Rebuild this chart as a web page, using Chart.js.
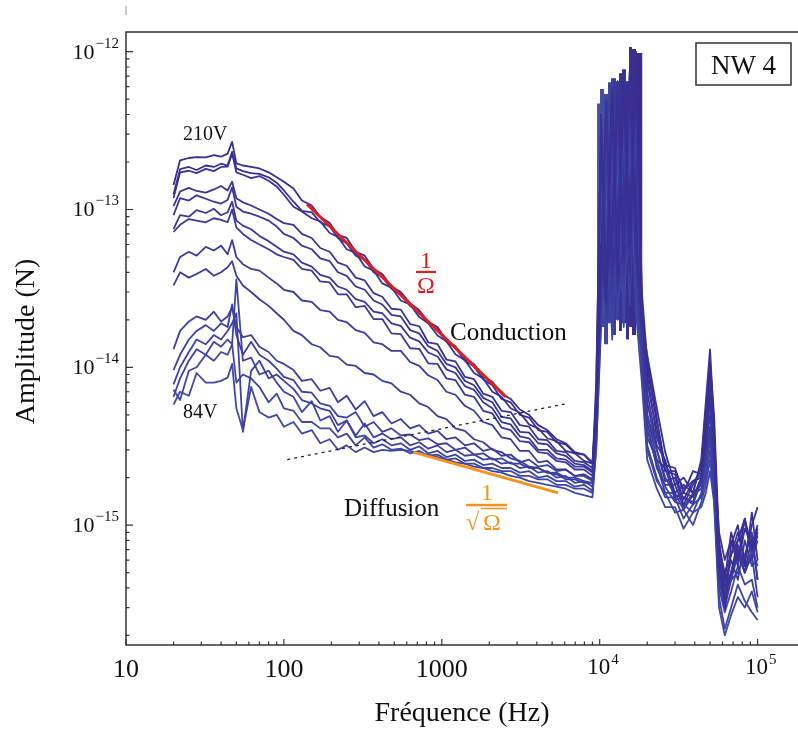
<!DOCTYPE html>
<html>
<head>
<meta charset="utf-8">
<script src="https://cdn.jsdelivr.net/npm/chart.js@4.4.0/dist/chart.umd.min.js"></script>
<style>
  html, body { margin: 0; padding: 0; background: #fff; }
  canvas { display: block; }
</style>
</head>
<body>
<canvas id="chart" width="798" height="735"></canvas>
<script>
// amplitudes are written in femtonewtons, converted to newtons for the axis
const FN = 1e-15;

const freqHz = [20, 22, 25, 28, 32, 36, 40, 44, 47, 50, 55, 62, 70, 80, 90, 100,
  115, 130, 150, 170, 195, 220, 250, 285, 325, 370, 420, 480, 550, 630, 720, 820, 940, 1070, 1220, 1400,
  1600, 1830, 2090, 2390, 2730, 3120, 3570, 4080, 4660, 5330, 6090, 6960, 7950, 9000,
  9500, 10200, 11000, 12000, 13000, 14200, 15500, 17000, 18500,
  20000, 23000, 26000, 30000, 34000, 39000, 44000, 47000, 50000, 53000, 57000, 62000, 68000, 75000, 83000, 92000, 100000];

// 210 V (top curve)
const curve01 = [143, 205, 212, 215, 214, 221, 216, 226, 268, 196, 190, 186, 182, 172, 160, 150,
  136, 114, 106, 90, 82, 69, 66, 54, 51, 42, 39, 32.5, 30, 25.5, 23, 19.4, 18, 14.8, 13.6, 11.3,
  10.5, 8.7, 8.1, 6.8, 6.3, 5.4, 5.0, 4.3, 4.0, 3.5, 3.3, 2.9, 2.8, 2.5,
  5, 60, 25, 560, 40, 690, 60, 1000, 22,
  10, 4.5, 2.4, 2.3, 1.6, 2.2, 2.1, 4.5, 11, 5.0, 0.8, 0.45, 0.9, 0.6, 1.1, 0.7, 0.95];
const curve02 = [125, 180, 186, 178, 190, 186, 195, 190, 232, 182, 175, 170, 168, 160, 148, 132,
  112, 98, 96, 83, 78, 66, 61, 51, 48, 40, 37.5, 31.5, 29, 24.5, 22.5, 19, 17.4, 14.5, 13.3, 11,
  10.1, 8.4, 7.7, 6.3, 6.0, 5.0, 4.8, 4.0, 3.9, 3.35, 3.25, 2.85, 2.8, 2.45,
  4, 400, 30, 80, 560, 50, 750, 70, 20,
  12, 5.5, 2.9, 1.8, 2.0, 1.6, 2.6, 6, 13, 4.2, 0.6, 0.3, 0.75, 1.0, 0.55, 1.2, 0.6];
const curve03 = [118, 172, 176, 170, 181, 175, 186, 187, 226, 172, 166, 158, 163, 152, 140, 124,
  104, 97, 88, 84, 71, 67, 56, 53, 43.5, 41, 34, 32, 26.5, 25, 20.8, 19, 15.9, 14.6, 12.1, 11.1,
  9.2, 8.5, 7.0, 6.5, 5.5, 5.15, 4.35, 4.1, 3.55, 3.4, 2.95, 2.85, 2.55, 2.45,
  6, 30, 450, 40, 70, 650, 40, 900, 25,
  8, 4.0, 2.2, 2.1, 1.45, 1.9, 2.0, 3.5, 8, 3.8, 0.55, 0.4, 0.5, 0.8, 1.05, 0.7, 0.85];
const curve04 = [105, 130, 137, 131, 128, 134, 141, 132, 150, 118, 111, 106, 100, 94, 87, 82,
  80, 70, 66, 57, 54, 46, 44, 37, 35.5, 29.5, 28, 23.5, 23.2, 18.8, 18.2, 14.4, 14, 11.2, 10.9, 8.7,
  8.4, 6.8, 6.5, 5.3, 5.2, 4.3, 4.2, 3.5, 3.45, 2.95, 2.9, 2.55, 2.5, 2.3,
  8, 350, 25, 600, 35, 60, 740, 50, 18,
  9, 3.6, 2.5, 1.6, 1.8, 1.6, 2.5, 5, 9, 3.2, 0.7, 0.5, 0.65, 0.9, 0.6, 1.0, 1.3];
const curve05 = [92, 118, 114, 123, 117, 112, 109, 115, 138, 104, 97, 94, 90, 85, 78, 70,
  66, 59, 56, 49, 47, 40, 38, 32.5, 31, 26.5, 25, 21.5, 21, 17.2, 16.4, 13.6, 12.7, 10.5, 10, 8.2,
  7.7, 6.4, 6.0, 4.85, 4.75, 3.9, 3.85, 3.3, 3.25, 2.85, 2.75, 2.45, 2.4, 2.2,
  5, 45, 500, 35, 650, 45, 80, 800, 30,
  11, 4.8, 2.2, 2.2, 1.7, 1.9, 2.1, 4, 7, 2.8, 0.9, 0.6, 0.8, 0.55, 0.95, 0.75, 1.0];
const curve06 = [75, 92, 90, 99, 95, 101, 92, 96, 112, 85, 79, 75, 68, 63, 58, 54,
  52, 46, 43.5, 38.5, 37, 32.5, 31, 27, 26, 22.5, 22, 19, 18.3, 15.4, 14.6, 12.4, 11.7, 9.7, 9.2, 7.6,
  7.2, 6.0, 5.5, 4.5, 4.35, 3.65, 3.55, 3.0, 3.0, 2.65, 2.6, 2.35, 2.35, 2.15,
  7, 300, 40, 550, 30, 700, 55, 650, 22,
  7, 3.2, 2.6, 1.5, 1.6, 1.5, 2.0, 3.2, 6, 3.0, 0.5, 0.35, 0.5, 0.7, 0.5, 0.85, 0.45];
const curve07 = [72, 80, 87, 85, 83, 88, 86, 83, 100, 77, 70, 64, 60, 56, 52, 50,
  48, 42, 41, 35, 34.5, 29, 29, 24, 24.5, 20.2, 20.2, 16.4, 16.2, 13.2, 13.1, 10.6, 10.5, 8.5, 8.3, 6.7,
  6.5, 5.3, 5.1, 4.15, 4.0, 3.4, 3.35, 2.9, 2.85, 2.55, 2.5, 2.25, 2.25, 2.05,
  6, 50, 480, 30, 80, 600, 35, 950, 18,
  6, 3.0, 1.9, 2.0, 1.35, 1.8, 2.3, 5.5, 10, 3.5, 0.65, 0.42, 0.65, 0.8, 1.1, 0.6, 0.9];
const curve08 = [40, 50, 54, 51, 58, 55, 59, 52, 64, 50, 45, 42, 41, 37, 34, 31,
  30, 26.5, 26, 23, 22.5, 20, 19.3, 17.2, 16.5, 14.4, 14, 12.7, 12.7, 10.8, 10.2, 8.9, 8.3, 7.0, 6.7, 5.7,
  5.3, 4.5, 4.3, 3.6, 3.5, 2.95, 2.95, 2.5, 2.55, 2.25, 2.25, 2.05, 2.05, 1.9,
  4, 250, 20, 45, 500, 40, 600, 45, 16,
  5, 2.6, 2.3, 1.45, 1.5, 1.35, 1.9, 3, 5, 2.6, 0.45, 0.3, 0.45, 0.7, 0.5, 0.65, 0.35];
const curve09 = [33, 40, 37, 39, 42, 38, 40, 43, 47, 38, 33, 30, 27, 24.5, 22, 20,
  17, 16, 14, 13.4, 11.8, 11.6, 10.4, 10.2, 9.2, 9.0, 8.2, 7.9, 7.0, 6.7, 5.9, 5.6, 4.9, 4.7, 4.1, 3.95,
  3.5, 3.35, 3.0, 2.9, 2.65, 2.55, 2.35, 2.3, 2.15, 2.1, 1.95, 1.95, 1.85, 1.85,
  5, 35, 300, 25, 450, 35, 550, 40, 15,
  4.5, 2.3, 1.8, 1.8, 1.3, 1.6, 1.8, 2.7, 4.2, 2.4, 0.7, 0.4, 0.6, 0.45, 0.8, 0.55, 0.6];
const curve10 = [13, 17, 19.5, 21, 20, 22.5, 19.5, 21, 24, 18, 15.5, 16, 13.5, 12.5, 11, 10.5,
  9.6, 8.2, 8.4, 7.1, 7.4, 6.0, 6.6, 5.4, 6.1, 4.9, 5.2, 4.4, 4.7, 4.1, 4.3, 3.8, 3.95, 3.5, 3.6, 3.2,
  3.3, 2.95, 3.05, 2.75, 2.8, 2.5, 2.6, 2.35, 2.4, 2.2, 2.25, 2.05, 2.1, 1.95,
  3.5, 45, 25, 380, 30, 500, 40, 700, 14,
  5, 3.0, 2.0, 1.55, 1.5, 1.4, 2.0, 3.5, 7, 2.2, 0.5, 0.32, 0.5, 0.75, 0.55, 0.6, 0.8];
const curve11 = [9.6, 12, 15, 17, 18.5, 17, 19, 18, 25, 16, 12, 14.5, 12, 11, 9.8, 8.7,
  8.3, 7.0, 6.9, 5.9, 5.7, 4.9, 4.8, 5.2, 4.2, 4.5, 3.9, 4.1, 3.7, 3.75, 3.45, 3.55, 3.25, 3.3, 3.0, 3.1,
  2.8, 2.85, 2.6, 2.65, 2.45, 2.45, 2.3, 2.3, 2.15, 2.15, 2.0, 2.0, 1.9, 1.85,
  4, 30, 280, 22, 40, 420, 30, 500, 12,
  4, 2.4, 1.6, 1.6, 1.25, 1.55, 1.7, 2.5, 4, 2.0, 0.55, 0.38, 0.45, 0.5, 0.65, 0.9, 0.45];
const curve12 = [7.8, 10, 12.5, 15, 14, 16, 15, 17, 19, 22, 3.9, 9.5, 11, 8.5, 9, 8.2,
  7.3, 6.2, 5.9, 5.5, 5.3, 4.3, 4.6, 3.7, 4.4, 3.6, 3.8, 3.5, 3.6, 3.2, 3.35, 3.05, 3.2, 2.9, 3.0, 2.75,
  2.8, 2.6, 2.65, 2.45, 2.5, 2.3, 2.35, 2.15, 2.2, 2.0, 2.05, 1.85, 1.9, 1.75,
  6, 25, 35, 320, 25, 45, 480, 35, 11,
  3.6, 2.6, 1.75, 1.4, 1.35, 1.2, 1.6, 2.2, 3.5, 1.8, 0.4, 0.28, 0.38, 0.55, 0.42, 0.45, 0.3];
const curve13 = [6.5, 8.5, 11, 13, 12, 14.5, 13.5, 15, 14, 36, 11, 11.5, 9, 9.5, 8, 7,
  6.5, 5.2, 6.1, 4.6, 4.9, 3.9, 4.6, 3.6, 3.7, 3.3, 3.5, 3.2, 3.3, 3.0, 3.15, 2.85, 2.95, 2.7, 2.8, 2.55,
  2.6, 2.4, 2.45, 2.3, 2.3, 2.15, 2.2, 2.0, 2.05, 1.9, 1.9, 1.75, 1.8, 1.65,
  3, 20, 200, 18, 300, 28, 400, 30, 10,
  3.2, 2.0, 1.5, 1.5, 1.1, 1.35, 1.5, 2.0, 3.0, 1.6, 0.6, 0.35, 0.45, 0.65, 0.5, 0.7, 0.55];
const curve14 = [7.2, 6.2, 9.5, 10, 12, 11, 12.5, 12, 14, 8, 9, 8.5, 7.5, 6.0, 6.8, 5.5,
  5.3, 4.5, 4.5, 4.1, 4.1, 3.6, 3.8, 3.2, 3.6, 3.1, 3.25, 3.0, 3.05, 2.85, 2.95, 2.75, 2.8, 2.6, 2.65, 2.45,
  2.45, 2.3, 2.3, 2.2, 2.2, 2.05, 2.05, 1.95, 1.95, 1.8, 1.8, 1.7, 1.7, 1.6,
  4, 22, 18, 250, 20, 350, 25, 380, 9,
  3.0, 1.9, 1.6, 1.2, 1.25, 1.0, 1.4, 1.8, 2.6, 1.5, 0.35, 0.22, 0.3, 0.42, 0.33, 0.28, 0.25];
// 84 V (bottom curve)
const curve15 = [5.8, 7.0, 6.6, 9.2, 8.0, 8.0, 8.2, 8.6, 10.5, 5.5, 4.0, 7.5, 5.2, 4.8, 5.0, 4.2,
  4.5, 3.8, 4.0, 3.3, 3.5, 3.0, 3.2, 2.9, 3.1, 2.9, 3.0, 2.95, 3.0, 2.95, 2.85, 2.8, 2.7, 2.6, 2.5, 2.45,
  2.35, 2.3, 2.2, 2.15, 2.05, 2.0, 1.9, 1.85, 1.8, 1.75, 1.7, 1.6, 1.55, 1.5,
  3, 18, 150, 15, 220, 18, 280, 22, 8,
  2.6, 1.7, 1.3, 1.3, 0.95, 1.2, 1.3, 1.6, 2.2, 1.4, 0.3, 0.2, 0.27, 0.35, 0.3, 0.38, 0.28];

const curves = [curve01, curve02, curve03, curve04, curve05, curve06, curve07, curve08,
  curve09, curve10, curve11, curve12, curve13, curve14, curve15];

// dense resonance block (upper / lower envelope of the oscillating traces)
const resF = [9620, 10050, 10650, 11290, 11790, 12680, 13250, 13840, 14670, 15330, 16020, 16980, 17990, 18670];
const resTop = [400, 470, 580, 540, 640, 680, 650, 730, 775, 650, 1070, 1040, 980, 980];
const resBottom = [10, 15, 18, 14, 19, 16, 20, 17, 19, 15, 18, 16, 19, 18];

// guide lines
const conductionF = [140, 2550];
const conductionA = [108, 6.5];
const diffusionF = [660, 5450];
const diffusionA = [2.9, 1.6];
const crossoverF = [105, 6000];
const crossoverA = [2.6, 5.85];

const xTicks = [10, 100, 1000, 1e4, 1e5];
const xTickBase = ['10', '100', '1000', '10', '10'];
const xTickExp = ['', '', '', '4', '5'];
const yTicks = [1e-12, 1e-13, 1e-14, 1e-15];
const yTickExp = ['\u221212', '\u221213', '\u221214', '\u221215'];

const SERIF = '"Liberation Serif", "Times New Roman", serif';
const RED = 'rgb(222,32,30)';
const ORANGE = 'rgb(247,146,30)';

const pts = (fs, as) => fs.map((f, i) => ({ x: f, y: as[i] * FN }));

function curveColor(i) {
  const t = i / (curves.length - 1);
  const r = Math.round(56 + (64 - 56) * t);
  const g = Math.round(46 + (72 - 46) * t);
  const b = Math.round(148 + (166 - 148) * t);
  return `rgb(${r},${g},${b})`;
}

const datasets = [];
datasets.push({
  data: pts(conductionF, conductionA), borderColor: RED, borderWidth: 3, order: 0
});
datasets.push({
  data: pts(diffusionF, diffusionA), borderColor: ORANGE, borderWidth: 3, order: 0
});
datasets.push({
  data: pts(crossoverF, crossoverA), borderColor: '#222', borderWidth: 1.3, borderDash: [3, 4], order: 0
});
curves.forEach((c, i) => {
  datasets.push({ data: pts(freqHz, c), borderColor: curveColor(i), borderWidth: 1.8, order: 1 });
});
datasets.push({
  data: pts(resF, resTop), stepped: 'after', borderWidth: 0, borderColor: 'rgba(0,0,0,0)',
  fill: '+1', order: 2,
  backgroundColor(context) {
    const { chart } = context;
    const { ctx, chartArea, scales } = chart;
    if (!chartArea || !scales.x) return 'rgb(62,62,152)';
    const x0 = scales.x.getPixelForValue(resF[0]);
    const x1 = scales.x.getPixelForValue(resF[resF.length - 1]);
    const g = ctx.createLinearGradient(x0, 0, x1, 0);
    g.addColorStop(0, 'rgb(70,86,168)');
    g.addColorStop(0.5, 'rgb(56,52,146)');
    g.addColorStop(1, 'rgb(60,42,140)');
    return g;
  }
});
datasets.push({
  data: pts(resF, resBottom), stepped: 'after', borderWidth: 0, borderColor: 'rgba(0,0,0,0)',
  fill: false, order: 3
});

function drawSup(ctx, base, exp, x, y, baseSize, expSize, expRise, align) {
  ctx.font = `${baseSize}px ${SERIF}`;
  const wb = ctx.measureText(base).width;
  ctx.font = `${expSize}px ${SERIF}`;
  const we = exp ? ctx.measureText(exp).width + 1 : 0;
  let x0;
  if (align === 'right') x0 = x - wb - we;
  else x0 = x - wb / 2;
  ctx.textAlign = 'left';
  ctx.textBaseline = 'alphabetic';
  ctx.font = `${baseSize}px ${SERIF}`;
  ctx.fillText(base, x0, y);
  if (exp) {
    ctx.font = `${expSize}px ${SERIF}`;
    ctx.fillText(exp, x0 + wb + 1, y - expRise);
  }
}

const decorations = {
  id: 'decorations',
  afterDraw(chart) {
    const { ctx, chartArea: a, scales: { x, y } } = chart;
    const px = f => x.getPixelForValue(f);
    const py = v => y.getPixelForValue(v * FN);
    ctx.save();

    // frame
    ctx.strokeStyle = '#333';
    ctx.lineWidth = 1.5;
    ctx.beginPath();
    ctx.moveTo(a.right, a.top);
    ctx.lineTo(a.left, a.top);
    ctx.lineTo(a.left, a.bottom);
    ctx.lineTo(a.right, a.bottom);
    ctx.stroke();
    ctx.strokeStyle = '#999';
    ctx.lineWidth = 1;
    ctx.beginPath();
    ctx.moveTo(a.left, 6);
    ctx.lineTo(a.left, 15);
    ctx.stroke();

    // inward tick marks
    ctx.strokeStyle = '#333';
    ctx.lineWidth = 1.2;
    ctx.beginPath();
    for (let e = -16; e <= -12; e++) {
      for (let m = 1; m <= 9; m++) {
        const v = m * Math.pow(10, e);
        if (v < y.min || v > y.max) continue;
        const yy = y.getPixelForValue(v);
        ctx.moveTo(a.left, yy);
        ctx.lineTo(a.left + (m === 1 ? 7 : 3.5), yy);
      }
    }
    for (let e = 1; e <= 5; e++) {
      for (let m = 1; m <= 9; m++) {
        const v = m * Math.pow(10, e);
        if (v < x.min || v > x.max) continue;
        const xx = x.getPixelForValue(v);
        ctx.moveTo(xx, a.bottom);
        ctx.lineTo(xx, a.bottom - (m === 1 ? 6 : 3.5));
      }
    }
    ctx.stroke();

    // tick labels
    ctx.fillStyle = '#111';
    yTicks.forEach((v, i) => {
      const yy = y.getPixelForValue(v);
      drawSup(ctx, '10', yTickExp[i], a.left - 7, yy + 7, 22, 15, 11, 'right');
    });
    xTicks.forEach((v, i) => {
      const xx = x.getPixelForValue(v);
      if (xTickExp[i]) {
        drawSup(ctx, xTickBase[i], xTickExp[i], xx - 1, a.bottom + 29, 23, 15, 10, 'center');
      } else {
        ctx.font = `26px ${SERIF}`;
        ctx.textAlign = 'center';
        ctx.textBaseline = 'alphabetic';
        ctx.fillText(xTickBase[i], xx, a.bottom + 32);
      }
    });

    // axis titles
    ctx.font = `28px ${SERIF}`;
    ctx.textAlign = 'center';
    ctx.textBaseline = 'alphabetic';
    ctx.fillText('Fr\u00e9quence (Hz)', (a.left + a.right) / 2, a.bottom + 76);
    ctx.save();
    ctx.translate(34, (a.top + a.bottom) / 2 + 3);
    ctx.rotate(-Math.PI / 2);
    ctx.fillText('Amplitude (N)', 0, 0);
    ctx.restore();

    // curve labels
    ctx.textAlign = 'left';
    ctx.font = `20px ${SERIF}`;
    ctx.fillText('210V', px(23), py(276));
    ctx.fillText('84V', px(23), py(4.77));
    ctx.font = `25px ${SERIF}`;
    ctx.fillText('Conduction', px(1127), py(14.9));
    ctx.fillText('Diffusion', px(240), py(1.14));

    // 1/Omega
    let cx = px(794), by = py(40.2);
    ctx.fillStyle = RED;
    ctx.strokeStyle = RED;
    ctx.textAlign = 'center';
    ctx.font = `24px ${SERIF}`;
    ctx.fillText('1', cx, by - 4);
    ctx.fillText('\u03a9', cx, by + 21);
    ctx.lineWidth = 2.2;
    ctx.beginPath();
    ctx.moveTo(cx - 10, by);
    ctx.lineTo(cx + 10, by);
    ctx.stroke();

    // 1/sqrt(Omega)
    cx = px(1934); by = py(1.34);
    ctx.fillStyle = ORANGE;
    ctx.strokeStyle = ORANGE;
    ctx.fillText('1', cx, by - 5);
    ctx.textAlign = 'left';
    ctx.fillText('\u221a', cx - 21, by + 25);
    ctx.fillText('\u03a9', cx - 4, by + 25);
    ctx.lineWidth = 2.5;
    ctx.beginPath();
    ctx.moveTo(cx - 21, by);
    ctx.lineTo(cx + 20, by);
    ctx.stroke();
    ctx.lineWidth = 1.5;
    ctx.beginPath();
    ctx.moveTo(cx - 6, by + 3.5);
    ctx.lineTo(cx + 20, by + 3.5);
    ctx.stroke();

    // NW 4 box
    const bx = a.right - 102, bt = a.top + 11;
    ctx.strokeStyle = '#333';
    ctx.lineWidth = 1.5;
    ctx.strokeRect(bx, bt, 95, 42);
    ctx.fillStyle = '#111';
    ctx.textAlign = 'center';
    ctx.font = `27px ${SERIF}`;
    ctx.fillText('NW 4', bx + 47.5, bt + 31);

    ctx.restore();
  }
};

new Chart(document.getElementById('chart'), {
  type: 'line',
  data: { datasets },
  options: {
    responsive: false,
    animation: false,
    events: [],
    layout: { padding: { left: 126, top: 32, right: 0, bottom: 90 } },
    elements: {
      point: { radius: 0 },
      line: { tension: 0, fill: false, borderJoinStyle: 'round' }
    },
    plugins: { legend: { display: false }, tooltip: { enabled: false } },
    scales: {
      x: { type: 'logarithmic', min: 10, max: 180300, display: false },
      y: { type: 'logarithmic', min: 1.738e-16, max: 1.333e-12, display: false }
    }
  },
  plugins: [decorations]
});
</script>
</body>
</html>
